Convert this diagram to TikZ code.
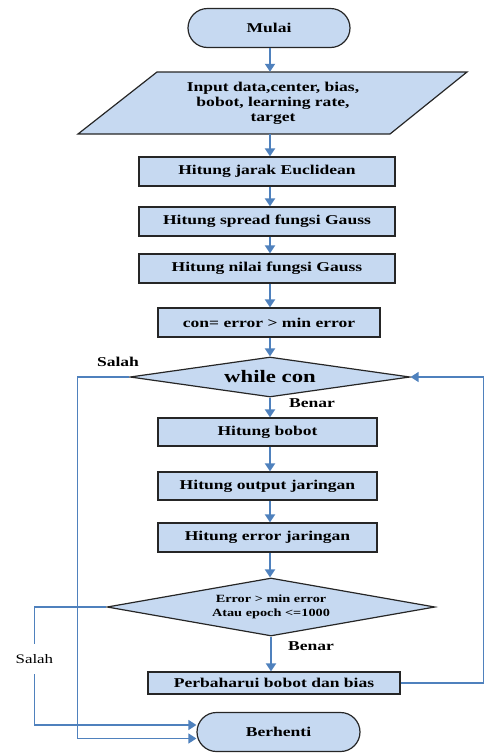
\documentclass[tikz,border=0pt]{standalone}
\usepackage{fontspec}
\setmainfont{Liberation Serif}[FakeStretch=1.3]
\usetikzlibrary{arrows.meta,calc,shapes.geometric}
\definecolor{boxfill}{RGB}{198,217,241}
\definecolor{arrblue}{RGB}{79,129,189}
\begin{document}
\begin{tikzpicture}[x=1pt,y=-1pt,
  txt/.style={font=\fontsize{13.5}{15}\selectfont\bfseries},
  box/.style={txt, draw=black!85, line width=1.2pt, fill=boxfill, minimum height=29pt, inner sep=0pt},
  term/.style={box, rounded corners=19.5pt, minimum height=39pt},
  dec/.style={draw=black!85, line width=1.2pt, fill=boxfill, shape=diamond, inner sep=0pt},
  arr/.style={draw=arrblue, line width=2pt, -{Triangle[width=10pt,length=8pt]}},
  loopar/.style={draw=arrblue, line width=1.3pt, -{Triangle[width=10pt,length=8pt]}},
  lbl/.style={txt, inner sep=1pt}]
\useasboundingbox (0,0) rectangle (485,753);
\coordinate (col) at (270,0);
% nodes
\node[term, minimum width=162pt] (mulai) at (269,28) {Mulai};
\draw[draw=black!85, line width=1.2pt, fill=boxfill] (157,72) -- (467,72) -- (390,134) -- (78,134) -- cycle;
\node[txt, align=center, minimum height=62pt, inner sep=0pt] (inp) at (273,103) {Input data,center, bias,\\bobot, learning rate,\\target};
\node[box, minimum width=256pt] (b1) at (267,171.5) {Hitung jarak Euclidean};
\node[box, minimum width=256pt] (b2) at (267,221.5) {Hitung spread fungsi Gauss};
\node[box, minimum width=256pt] (b3) at (267,268.5) {Hitung nilai fungsi Gauss};
\node[box, minimum width=222pt] (b4) at (269,322.5) {con= error > min error};
\node[dec, aspect=7, minimum width=280pt, minimum height=40pt, font=\fontsize{17.5}{20}\selectfont\bfseries] (d1) at (270,377) {while con};
\node[box, minimum width=219pt, minimum height=28pt] (b5) at (267.5,432) {Hitung bobot};
\node[box, minimum width=219pt, minimum height=28pt] (b6) at (267.5,486) {Hitung output jaringan};
\node[box, minimum width=219pt] (b7) at (267.5,537.5) {Hitung error jaringan};
\node[dec, aspect=5.66, minimum width=328pt, minimum height=58pt, align=center, font=\fontsize{11}{14}\selectfont\bfseries] (d2) at (271,607) {Error > min error\\Atau epoch <=1000};
\node[box, minimum width=252pt, minimum height=22pt] (b8) at (274,683) {Perbaharui bobot dan bias};
\node[term, minimum width=163pt] (stop) at (278.5,732) {Berhenti};
% labels
\node[lbl] (salah1) at (118,362) {Salah};
\node[lbl] (benar1) at (312,403) {Benar};
\node[lbl] (benar2) at (311,646) {Benar};
% main flow
\draw[arr] (mulai.south -| col) -- (inp.north -| col);
\draw[arr] (inp.south -| col) -- (b1.north -| col);
\draw[arr] (b1.south -| col) -- (b2.north -| col);
\draw[arr] (b2.south -| col) -- (b3.north -| col);
\draw[arr] (b3.south -| col) -- (b4.north -| col);
\draw[arr] (b4.south -| col) -- (d1.north -| col);
\draw[arr] (d1.south -| col) -- (b5.north -| col);
\draw[arr] (b5.south -| col) -- (b6.north -| col);
\draw[arr] (b6.south -| col) -- (b7.north -| col);
\draw[arr] (b7.south -| col) -- (d2.north -| col);
\draw[arr] (d2.south) -- (b8.north -| d2.south);
% loops
\draw[loopar] (d1.west) -- ++(-52,0) |- ($(stop.west)+(0,6.5)$);
\draw[loopar] (d2.west) -- ++(-72,0) |- node[pos=0.22, fill=white, txt, font=\fontsize{13}{15}\selectfont, inner xsep=2pt, inner ysep=10pt] (salah2) {Salah} ($(stop.west)+(0,-7)$);
\draw[loopar] (b8.east) -- ++(83,0) |- (d1.east);
\end{tikzpicture}
\end{document}
